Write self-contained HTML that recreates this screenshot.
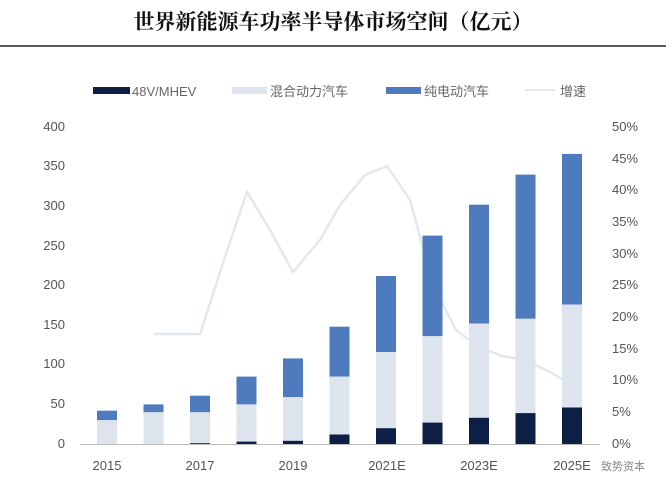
<!DOCTYPE html><html><head><meta charset="utf-8"><style>body{margin:0;background:#fff}svg{display:block}</style></head><body>
<svg width="666" height="489" xmlns="http://www.w3.org/2000/svg" font-family="Liberation Sans, Noto Sans CJK SC, sans-serif">
<text x="333" y="29" text-anchor="middle" font-family="Liberation Serif, Noto Serif CJK SC, serif" font-weight="bold" font-size="21" fill="#111">世界新能源车功率半导体市场空间（亿元）</text>
<line x1="0" y1="46" x2="666" y2="46" stroke="#222" stroke-width="1.5"/>
<g font-size="13" fill="#666">
<rect x="93" y="87" width="37" height="7" fill="#0d1f45"/><text x="132" y="96">48V/MHEV</text>
<rect x="232" y="87" width="35" height="7" fill="#dde4ee"/><text x="270" y="96">混合动力汽车</text>
<rect x="386" y="87" width="35" height="7" fill="#4d7bbd"/><text x="424" y="96">纯电动汽车</text>
<line x1="525" y1="90" x2="555" y2="90" stroke="#e3e8ef" stroke-width="2"/><text x="560" y="96">增速</text>
</g>
<g font-size="13" fill="#555" text-anchor="end">
<text x="65" y="131">400</text><text x="65" y="170">350</text><text x="65" y="210">300</text><text x="65" y="250">250</text><text x="65" y="289">200</text><text x="65" y="329">150</text><text x="65" y="368">100</text><text x="65" y="408">50</text><text x="65" y="448">0</text>
</g>
<g font-size="13" fill="#555" text-anchor="start">
<text x="612" y="131">50%</text><text x="612" y="163">45%</text><text x="612" y="194">40%</text><text x="612" y="226">35%</text><text x="612" y="258">30%</text><text x="612" y="289">25%</text><text x="612" y="321">20%</text><text x="612" y="353">15%</text><text x="612" y="384">10%</text><text x="612" y="416">5%</text><text x="612" y="448">0%</text>
</g>
<polyline fill="none" stroke="#e3e8ef" stroke-width="2.5" points="154,334 200,334 224,260 247,192 270,230 293,272 320,240 340,205 365,175 387,166 410,200 433,285 456,330 479,347 502,356 525,360 550,372 572,385"/>
<g>
<rect x="97" y="410.7" width="20" height="9.5" fill="#4d7bbd"/><rect x="97" y="420.2" width="20" height="23.8" fill="#dde4ee"/>
<rect x="143.5" y="404.4" width="20" height="7.9" fill="#4d7bbd"/><rect x="143.5" y="412.3" width="20" height="31.7" fill="#dde4ee"/>
<rect x="190" y="395.7" width="20" height="16.6" fill="#4d7bbd"/><rect x="190" y="412.3" width="20" height="30.9" fill="#dde4ee"/><rect x="190" y="443.2" width="20" height="0.8" fill="#0d1f45"/>
<rect x="236.5" y="376.6" width="20" height="27.8" fill="#4d7bbd"/><rect x="236.5" y="404.4" width="20" height="37.2" fill="#dde4ee"/><rect x="236.5" y="441.6" width="20" height="2.4" fill="#0d1f45"/>
<rect x="283" y="358.4" width="20" height="38.8" fill="#4d7bbd"/><rect x="283" y="397.2" width="20" height="43.6" fill="#dde4ee"/><rect x="283" y="440.8" width="20" height="3.2" fill="#0d1f45"/>
<rect x="329.5" y="326.7" width="20" height="49.9" fill="#4d7bbd"/><rect x="329.5" y="376.6" width="20" height="57.9" fill="#dde4ee"/><rect x="329.5" y="434.5" width="20" height="9.5" fill="#0d1f45"/>
<rect x="376" y="276" width="20" height="76.1" fill="#4d7bbd"/><rect x="376" y="352.1" width="20" height="76.1" fill="#dde4ee"/><rect x="376" y="428.2" width="20" height="15.8" fill="#0d1f45"/>
<rect x="422.5" y="235.6" width="20" height="100.6" fill="#4d7bbd"/><rect x="422.5" y="336.2" width="20" height="86.4" fill="#dde4ee"/><rect x="422.5" y="422.6" width="20" height="21.4" fill="#0d1f45"/>
<rect x="469" y="204.7" width="20" height="118.8" fill="#4d7bbd"/><rect x="469" y="323.5" width="20" height="94.3" fill="#dde4ee"/><rect x="469" y="417.8" width="20" height="26.2" fill="#0d1f45"/>
<rect x="515.5" y="174.6" width="20" height="144.2" fill="#4d7bbd"/><rect x="515.5" y="318.8" width="20" height="94.3" fill="#dde4ee"/><rect x="515.5" y="413.1" width="20" height="30.9" fill="#0d1f45"/>
<rect x="562" y="153.9" width="20" height="150.6" fill="#4d7bbd"/><rect x="562" y="304.5" width="20" height="103" fill="#dde4ee"/><rect x="562" y="407.5" width="20" height="36.5" fill="#0d1f45"/>
</g>
<line x1="80" y1="444.5" x2="600" y2="444.5" stroke="#bbb"/>
<g font-size="13" fill="#555" text-anchor="middle">
<text x="107" y="470">2015</text><text x="200" y="470">2017</text><text x="293" y="470">2019</text><text x="387" y="470">2021E</text><text x="479" y="470">2023E</text><text x="572" y="470">2025E</text>
</g>
<text x="645" y="470" text-anchor="end" font-size="11" fill="#888">致势资本</text>
</svg></body></html>
